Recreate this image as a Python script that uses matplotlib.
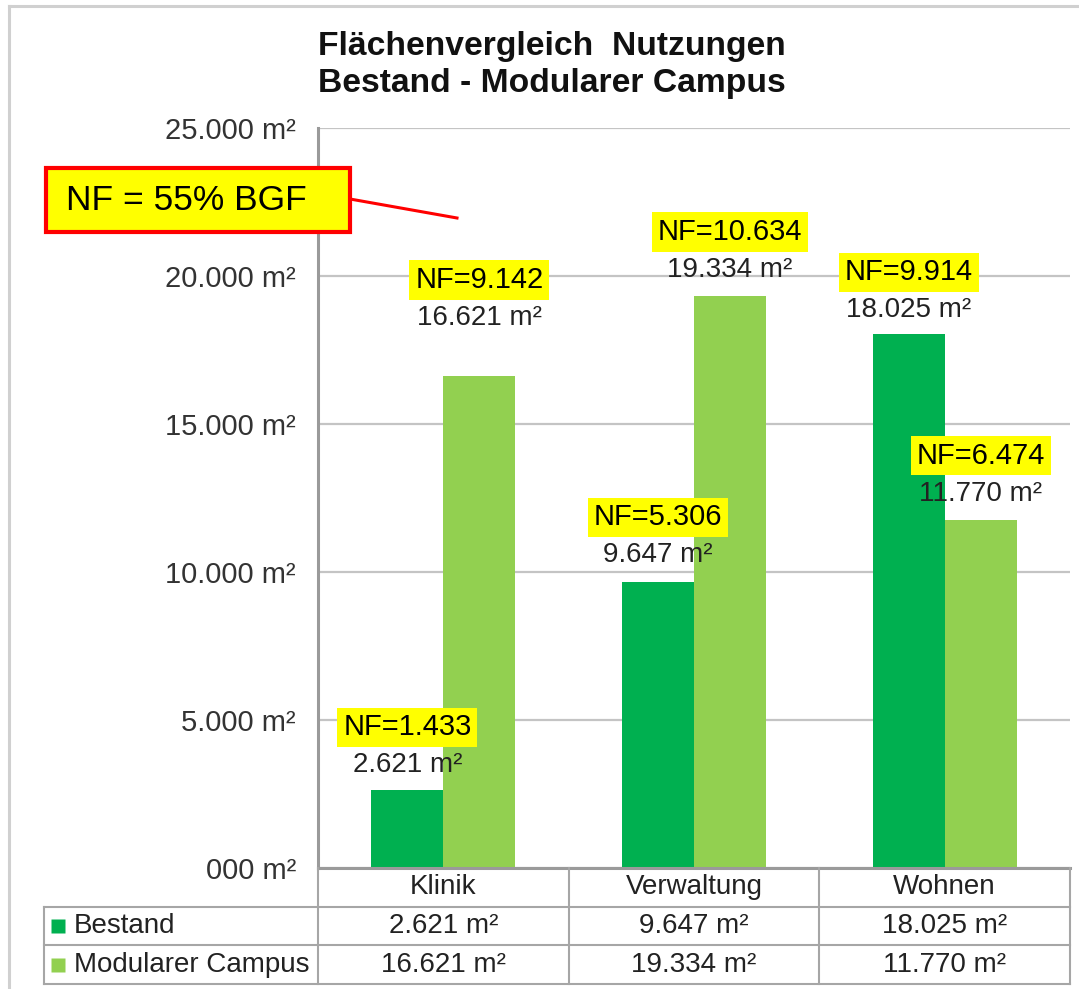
import matplotlib.pyplot as plt
import numpy as np
from matplotlib.patches import Rectangle
from matplotlib.lines import Line2D

plt.rcParams['font.family'] = ['Liberation Sans', 'DejaVu Sans']

# data
categories = ['Klinik', 'Verwaltung', 'Wohnen']
series = ['Bestand', 'Modularer Campus']
bestand = [2621, 9647, 18025]
modular = [16621, 19334, 11770]
nf_bestand = ['1.433', '5.306', '9.914']
nf_modular = ['9.142', '10.634', '6.474']
ytick_values = [0, 5000, 10000, 15000, 20000, 25000]
ytick_labels = ['000 m²', '5.000 m²', '10.000 m²', '15.000 m²', '20.000 m²', '25.000 m²']

c_dark = '#00B050'
c_light = '#92D050'
txt = '#222222'

W, H = 1079, 989
fig = plt.figure(figsize=(W / 100, H / 100), dpi=100)

def fx(px):
    return px / W

def fy(py):
    return 1 - py / H

def fmt(v):
    return f'{v:,}'.replace(',', '.') + ' m²'

# outer frame
fig.add_artist(Line2D([fx(9), fx(9)], [fy(6), fy(989)], color='#d0d0d0', lw=2.2))
fig.add_artist(Line2D([fx(9), fx(1079)], [fy(6), fy(6)], color='#d0d0d0', lw=2.2))

# title
fig.text(fx(318), fy(55), 'Flächenvergleich  Nutzungen', fontsize=24.2, weight='bold', va='baseline', color='#111111')
fig.text(fx(318), fy(92), 'Bestand - Modularer Campus', fontsize=24.2, weight='bold', va='baseline', color='#111111')

# main axes
L, R, T, B = 318, 1070, 128, 868
ax = fig.add_axes([fx(L), fy(B), fx(R - L), (B - T) / H])
x = np.arange(len(categories))
w = 0.287
ax.bar(x - w / 2, bestand, w, color=c_dark, zorder=2)
ax.bar(x + w / 2, modular, w, color=c_light, zorder=2)
ax.set_xlim(-0.5, 2.5)
ax.set_ylim(0, 25000)
ax.set_yticks(ytick_values)
ax.set_yticklabels(ytick_labels, fontsize=21, color='#333333')
ax.set_xticks([])
ax.tick_params(axis='y', length=0, pad=16)
ax.grid(axis='y', color='#c4c4c4', lw=1.6, zorder=0)
for s in ['top', 'right']:
    ax.spines[s].set_visible(False)
ax.spines['left'].set_color('#9a9a9a')
ax.spines['left'].set_linewidth(2.2)
ax.spines['bottom'].set_color('#9a9a9a')
ax.spines['bottom'].set_linewidth(2.2)

# value labels + NF boxes (offsets in px above bar top)
pad_b = [25, 27, 24]
pad_m = [58, 26, 26]
nf_gap = 38
for vals, nfs, pads, sign in [(bestand, nf_bestand, pad_b, -1), (modular, nf_modular, pad_m, 1)]:
    for i, v in enumerate(vals):
        xc = x[i] + sign * w / 2
        ax.annotate(fmt(v), (xc, v), xytext=(0, pads[i] * 0.72), textcoords='offset points',
                    ha='center', va='center', fontsize=20, color=txt, zorder=5)
        ax.annotate('NF=' + nfs[i], (xc, v), xytext=(0, (pads[i] + nf_gap) * 0.72),
                    textcoords='offset points', ha='center', va='center', fontsize=21,
                    color='black', zorder=6,
                    bbox=dict(boxstyle='square,pad=0.2', fc='#FFFF00', ec='none'))

# callout box
fig.add_artist(Rectangle((fx(46), fy(232)), fx(304), (232 - 168) / H, fc='#FFFF00',
                         ec='#FF0000', lw=3, transform=fig.transFigure))
fig.text(fx(66), fy(201), 'NF = 55% BGF', fontsize=25.5, va='center', ha='left', color='black')
fig.add_artist(Line2D([fx(350), fx(457)], [fy(199), fy(218)], color='#FF0000', lw=2.2))

# data table
TL, TB = 44, 984
cat_px = (R - L) / 3
xmin = -0.5 - (L - TL) / cat_px
axt = fig.add_axes([fx(TL), fy(TB), fx(R - TL), (TB - B) / H])
axt.set_xlim(xmin, 2.5)
axt.set_ylim(3, 0)
axt.axis('off')
lc = '#a6a6a6'
for yy in [1, 2, 3]:
    axt.plot([xmin, 2.5], [yy, yy], color=lc, lw=1.5, clip_on=False)
for xx in [-0.5, 0.5, 1.5, 2.5]:
    axt.plot([xx, xx], [0, 3], color=lc, lw=1.5, clip_on=False)
axt.plot([xmin, xmin], [1, 3], color=lc, lw=1.5, clip_on=False)

for i, c in enumerate(categories):
    axt.text(i, 0.5, c, ha='center', va='center', fontsize=20, color=txt)
    axt.text(i, 1.5, fmt(bestand[i]), ha='center', va='center', fontsize=20, color=txt)
    axt.text(i, 2.5, fmt(modular[i]), ha='center', va='center', fontsize=20, color=txt)

for r, (name, col) in enumerate(zip(series, [c_dark, c_light])):
    axt.plot(xmin + 14 / cat_px, r + 1.5, marker='s', ms=9.5, color=col, mec='none')
    axt.text(xmin + 30 / cat_px, r + 1.5, name, ha='left', va='center', fontsize=20, color=txt)

fig.savefig('out.png', dpi=100)
